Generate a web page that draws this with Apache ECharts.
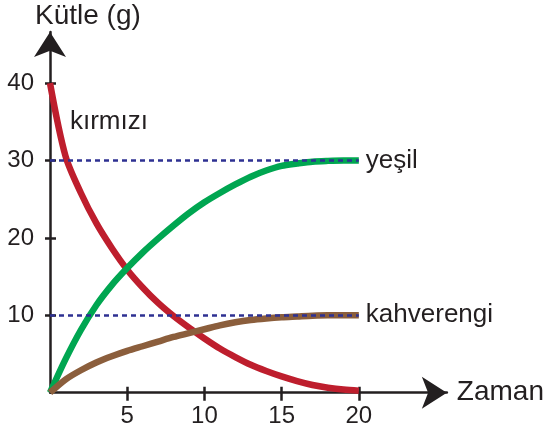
<!DOCTYPE html>
<html>
<head>
<meta charset="utf-8">
<script src="https://cdn.jsdelivr.net/npm/echarts@6/dist/echarts.min.js"></script>
<style>
html,body{margin:0;padding:0;background:#fff;}
#chart{width:547px;height:437px;}
</style>
</head>
<body>
<div id="chart"></div>
<script>
// ---- data ----
const xs = [0, 1, 2, 3, 4, 5, 6, 7, 8, 9, 10, 11, 12, 13, 14, 15, 16, 17, 18, 19, 20];
const red = [40, 30.6, 25.8, 21.9, 18.7, 15.9, 13.6, 11.6, 9.9, 8.4, 7.0, 5.7, 4.6, 3.6, 2.8, 2.1, 1.5, 1.0, 0.65, 0.4, 0.25];
const green = [0, 4.3, 8.1, 11.3, 13.9, 16.1, 18.1, 19.9, 21.6, 23.2, 24.6, 25.8, 26.9, 27.9, 28.7, 29.3, 29.6, 29.85, 29.95, 30, 30];
const brown = [0, 1.7, 2.9, 3.9, 4.7, 5.4, 6.0, 6.6, 7.2, 7.7, 8.2, 8.7, 9.1, 9.4, 9.6, 9.75, 9.85, 9.95, 10, 10, 10];
const seriesNames = ['kırmızı', 'yeşil', 'kahverengi'];
const refLines = [30, 10];
const xTicks = [5, 10, 15, 20];
const yTicks = [10, 20, 30, 40];
const xName = 'Zaman';
const yName = 'Kütle (g)';
const redLabelAt = [1.29, 35];

const pairs = arr => xs.map((x, i) => [x, arr[i]]);
const FONT = '"Liberation Sans", Arial, sans-serif';
const INK = '#231f20';

const chart = echarts.init(document.getElementById('chart'), null, {renderer: 'canvas'});

const xBase = {
  type: 'value', min: 0, max: 25.7, position: 'bottom', splitLine: {show: false}
};
const yBase = {
  type: 'value', min: 0, max: 46.6, position: 'left', splitLine: {show: false}
};
const hiddenLine = {show: true, lineStyle: {color: 'rgba(0,0,0,0)', width: 0}};

chart.setOption({
  animation: false,
  backgroundColor: '#fff',
  title: {
    text: yName, left: 35, top: 2, padding: 0,
    textStyle: {fontFamily: FONT, fontSize: 28, fontWeight: 'normal', color: INK}
  },
  grid: {left: 50, right: 98, top: 32, bottom: 44.3},
  xAxis: [
    Object.assign({}, xBase, {
      name: xName, nameLocation: 'end', nameGap: 10,
      nameTextStyle: {fontFamily: FONT, fontSize: 28, color: INK},
      axisLine: {show: true, lineStyle: {color: INK, width: 2.5}, symbol: ['none', 'arrow'], symbolSize: [24, 25]},
      axisTick: {show: true, customValues: xTicks, length: 8, lineStyle: {color: INK, width: 2.5}},
      axisLabel: {show: true, customValues: xTicks, margin: 12, fontFamily: FONT, fontSize: 24, color: INK}
    }),
    Object.assign({}, xBase, {
      axisLine: hiddenLine,
      axisTick: {show: true, inside: true, customValues: xTicks, length: 6, lineStyle: {color: INK, width: 2.5}},
      axisLabel: {show: false}
    })
  ],
  yAxis: [
    Object.assign({}, yBase, {
      axisLine: {show: true, lineStyle: {color: INK, width: 2.5}, symbol: ['none', 'arrow'], symbolSize: [24, 25]},
      axisTick: {show: true, customValues: yTicks, length: 5, lineStyle: {color: INK, width: 2.5}},
      axisLabel: {show: true, customValues: yTicks, margin: 16, fontFamily: FONT, fontSize: 24, color: INK}
    }),
    Object.assign({}, yBase, {
      axisLine: hiddenLine,
      axisTick: {show: true, inside: true, customValues: yTicks, length: 6, lineStyle: {color: INK, width: 2.5}},
      axisLabel: {show: false}
    })
  ],
  series: [
    {
      name: seriesNames[0], type: 'line', smooth: 0.3, showSymbol: false, symbol: 'none',
      data: pairs(red), z: 2,
      lineStyle: {color: '#be1e2d', width: 6.5, cap: 'butt'},
      markPoint: {
        symbol: 'circle', symbolSize: 0,
        data: [{coord: redLabelAt, value: seriesNames[0]}],
        label: {show: true, position: 'right', distance: 0, formatter: seriesNames[0],
          fontFamily: FONT, fontSize: 26, color: INK}
      }
    },
    {
      name: seriesNames[1], type: 'line', smooth: 0.3, showSymbol: false, symbol: 'none',
      data: pairs(green), z: 3,
      lineStyle: {color: '#00a651', width: 6.5, cap: 'butt'},
      endLabel: {show: true, formatter: seriesNames[1], distance: 7, fontFamily: FONT, fontSize: 26, color: INK}
    },
    {
      name: seriesNames[2], type: 'line', smooth: 0.3, showSymbol: false, symbol: 'none',
      data: pairs(brown), z: 3,
      lineStyle: {color: '#8b5e3c', width: 6.5, cap: 'butt'},
      endLabel: {show: true, formatter: seriesNames[2], distance: 7, fontFamily: FONT, fontSize: 26, color: INK}
    },
    {
      name: 'ref', type: 'line', data: [], z: 5,
      markLine: {
        silent: true, symbol: ['none', 'none'], animation: false,
        label: {show: false},
        lineStyle: {color: '#2e3192', width: 2.5, type: [5, 4]},
        data: refLines.map(v => [{coord: [0, v]}, {coord: [20, v]}])
      }
    }
  ]
});
</script>
</body>
</html>
